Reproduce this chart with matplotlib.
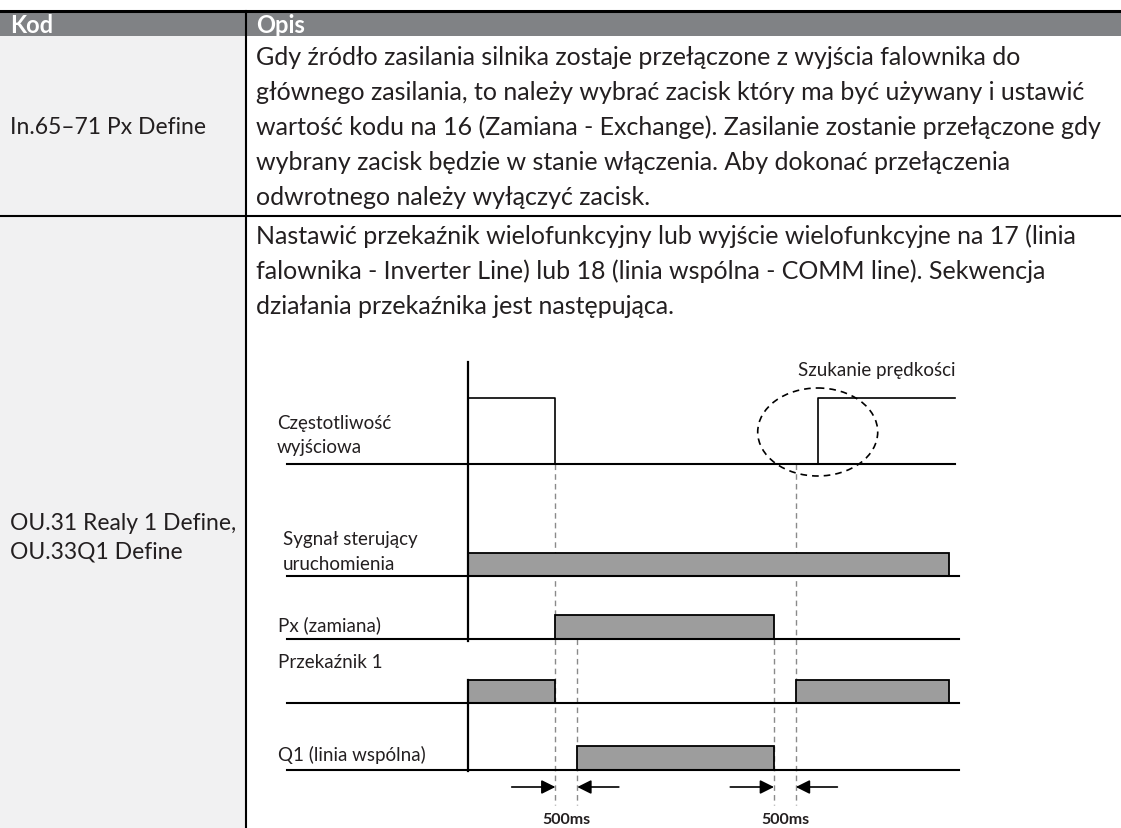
import matplotlib
matplotlib.use("Agg")
import matplotlib.pyplot as plt
from matplotlib.patches import Rectangle, Ellipse

plt.rcParams['font.family'] = ['Lato', 'DejaVu Sans']

W, H = 1121, 829
INK = '#231f20'

# ---------------- table text ----------------
header = ["Kod", "Opis"]
codes = ["In.65–71 Px Define", "OU.31 Realy 1 Define,\nOU.33Q1 Define"]
row1_lines = [
    "Gdy źródło zasilania silnika zostaje przełączone z wyjścia falownika do",
    "głównego zasilania, to należy wybrać zacisk który ma być używany i ustawić",
    "wartość kodu na 16 (Zamiana - Exchange). Zasilanie zostanie przełączone gdy",
    "wybrany zacisk będzie w stanie włączenia. Aby dokonać przełączenia",
    "odwrotnego należy wyłączyć zacisk.",
]
row2_lines = [
    "Nastawić przekaźnik wielofunkcyjny lub wyjście wielofunkcyjne na 17 (linia",
    "falownika - Inverter Line) lub 18 (linia wspólna - COMM line). Sekwencja",
    "działania przekaźnika jest następująca.",
]

# ---------------- timing data (ms) ----------------
sig_labels = ["Częstotliwość\nwyjściowa", "Sygnał sterujący\nuruchomienia",
              "Px (zamiana)", "Przekaźnik 1", "Q1 (linia wspólna)"]
on_start = [[0, 8000], [0], [2000], [0, 7500], [2500]]
on_end = [[2000, 11150], [11000], [7000], [2000, 11000], [7000]]
delay_ms = 500
delay_at = [2000, 7000]
search_label = "Szukanie prędkości"

# layout (pixels)
base_y = [465, 577, 640, 704, 771]
high_y = [399, 554, 616, 681, 747]
label_xy = [(277, 423), (283, 540), (278, 625), (278, 662), (278, 755)]
t0_px = 468
px_per_ms = 306 / 7000
line_start, line_end = -4140, 11230

fig = plt.figure(figsize=(W / 100, H / 100), dpi=100)
tab = fig.add_axes([0, 0, 1, 1])
tab.set_xlim(0, W)
tab.set_ylim(H, 0)
tab.axis('off')

col_x = 246
head_top, head_bot = 12, 37
row_div = 217

tab.add_patch(Rectangle((0, head_top), W, head_bot - head_top, color='#808285', lw=0))
tab.add_patch(Rectangle((0, head_bot), col_x, H - head_bot, color='#f1f1f2', lw=0))
tab.plot([0, W], [head_top, head_top], color='black', lw=2.2)
tab.plot([0, W], [row_div, row_div], color='black', lw=1.5)
tab.plot([col_x, col_x], [head_top, H], color='black', lw=1.5)

tab.text(10, 25, header[0], color='white', fontsize=17, fontweight='bold', va='center')
tab.text(col_x + 10, 25, header[1], color='white', fontsize=17, fontweight='bold', va='center')

body = 18
code_fs = 16.5
tab.text(10, 127, codes[0], fontsize=code_fs, va='center', color=INK)
for k, s in enumerate(codes[1].split("\n")):
    tab.text(10, 523 + k * 29, s, fontsize=code_fs, va='center', color=INK)

for i, s in enumerate(row1_lines):
    tab.text(col_x + 10, 57 + i * 35, s, fontsize=body, va='center', color=INK)
for i, s in enumerate(row2_lines):
    tab.text(col_x + 10, 236 + i * 35, s, fontsize=body, va='center', color=INK)

for (lx, ly), s in zip(label_xy, sig_labels):
    for k, part in enumerate(s.split("\n")):
        tab.text(lx, ly + k * 24, part, fontsize=13.5, va='center', color=INK)

# ---------------- timing diagram ----------------
x0, x1 = 270, 1000
ax = fig.add_axes([x0 / W, 0, (x1 - x0) / W, 1])
ax.set_xlim(-(t0_px - x0) / px_per_ms, (x1 - t0_px) / px_per_ms)
ax.set_ylim(H, 0)
ax.axis('off')
ax.patch.set_alpha(0)

# baselines
for i, yb in enumerate(base_y):
    end = on_end[0][-1] if i == 0 else line_end
    ax.plot([line_start, end], [yb, yb], color='black', lw=1.5, zorder=3)

# main time axis
ax.plot([0, 0], [363, 642], color='black', lw=1.6, zorder=3)
ax.plot([0, 0], [681, 772], color='black', lw=1.6, zorder=3)

# output frequency: outline pulses
f_s, f_e = on_start[0], on_end[0]
ax.plot([f_s[0], f_s[0], f_e[0], f_e[0]], [base_y[0], high_y[0], high_y[0], base_y[0]],
        color='black', lw=1.2, zorder=3)
ax.plot([f_s[1], f_s[1], f_e[1]], [base_y[0], high_y[0], high_y[0]],
        color='black', lw=1.2, zorder=3)

# filled digital signals
for i in range(1, len(sig_labels)):
    for s, e in zip(on_start[i], on_end[i]):
        ax.add_patch(Rectangle((s, high_y[i]), e - s, base_y[i] - high_y[i],
                               facecolor='#9d9d9d', edgecolor='black', lw=1.3, zorder=2))

# dashed guide lines
guides = [(delay_at[0], base_y[0]), (delay_at[0] + delay_ms, base_y[2]),
          (delay_at[1], base_y[2]), (delay_at[1] + delay_ms, base_y[0])]
for t, ytop in guides:
    ax.plot([t, t], [ytop, 806], color='#8a8a8a', lw=1, ls=(0, (4, 3)), zorder=1)

# delay arrows
arr_y = 788
arrow = dict(arrowstyle='-|>,head_length=0.6,head_width=0.3', color='black',
             lw=1.2, mutation_scale=14, shrinkA=0, shrinkB=0)
for t in delay_at:
    ax.annotate('', xy=(t, arr_y), xytext=(t - 1000, arr_y), arrowprops=arrow)
    ax.annotate('', xy=(t + delay_ms, arr_y), xytext=(t + delay_ms + 950, arr_y),
                arrowprops=arrow)
    ax.text(t + delay_ms / 2, 820, f"{delay_ms}ms", fontsize=11.5, fontweight='bold',
            ha='center', va='center', color=INK)

# speed search marker
ax.add_patch(Ellipse((on_start[0][1], 433), 120 / px_per_ms, 88, fill=False,
                     edgecolor='black', lw=1.2, ls=(0, (4, 3)), zorder=4))
ax.text(on_end[0][1], 370, search_label, fontsize=13.5, ha='right', va='center', color=INK)

fig.savefig("out.png", dpi=100)
